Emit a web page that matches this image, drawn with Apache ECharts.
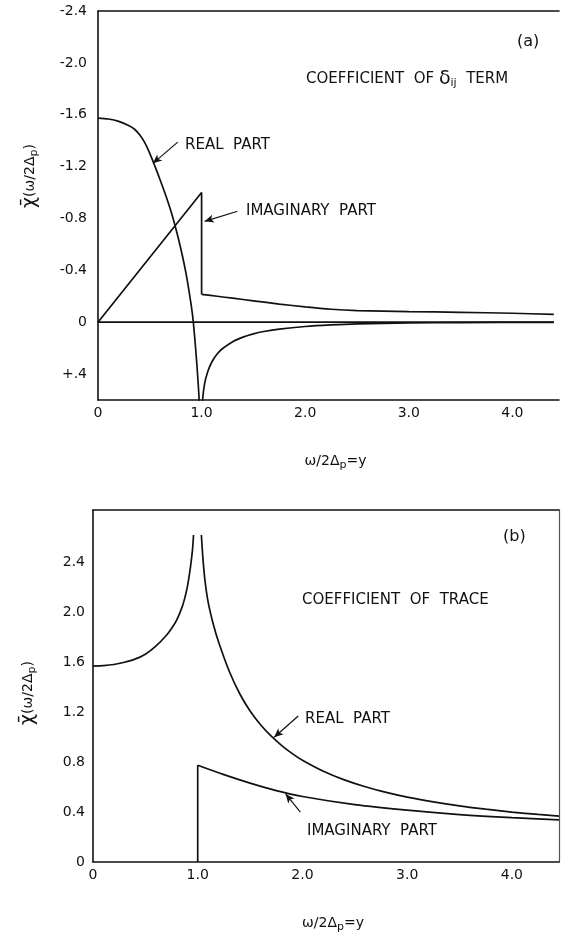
<!DOCTYPE html>
<html><head><meta charset="utf-8">
<script src="https://cdn.jsdelivr.net/npm/echarts@6/dist/echarts.min.js"></script>
<style>html,body{margin:0;padding:0;background:#fff}#c{width:562px;height:934px}</style>
</head><body><div id="c"></div>
<script>
// ---------- Panel (a): coefficient of delta_ij term ----------
const aRealBelow = [[0,-1.574],[0.1,-1.567],[0.2,-1.549],[0.3,-1.515],[0.35,-1.49],[0.4,-1.447],[0.45,-1.387],[0.5,-1.302],[0.55,-1.202],[0.6,-1.097],[0.65,-0.987],[0.7,-0.867],[0.75,-0.727],[0.8,-0.565],[0.85,-0.375],[0.9,-0.13],[0.92,0.0],[0.95,0.28],[0.975,0.58],[0.99,0.9]];
const aRealAbove = [[1.0,0.9],[1.01,0.6],[1.03,0.47],[1.06,0.38],[1.1,0.305],[1.15,0.245],[1.2,0.205],[1.3,0.15],[1.4,0.115],[1.5,0.09],[1.6,0.072],[1.75,0.053],[2.0,0.033],[2.25,0.021],[2.5,0.013],[3.0,0.006],[3.5,0.003],[4.4,0.001]];
const aImagRamp = [[0,0],[1.0,-1.0],[1.0,-0.215]];
const aImagTail = [[1.0,-0.215],[1.15,-0.2],[1.3,-0.185],[1.5,-0.165],[1.75,-0.14],[2.0,-0.118],[2.25,-0.1],[2.5,-0.09],[3.0,-0.082],[3.5,-0.076],[4.0,-0.069],[4.4,-0.06]];
const aZero = [[0,0],[4.4,0]];
const aYLabels = {'-2.4':'-2.4','-2.0':'-2.0','-1.6':'-1.6','-1.2':'-1.2','-0.8':'-0.8','-0.4':'-0.4','0.0':'0','0.4':'+.4'};
const aArrowReal = [[0.77,-1.389],[0.53,-1.225]];
const aArrowImag = [[1.346,-0.856],[1.03,-0.778]];

// ---------- Panel (b): coefficient of trace ----------
const bRealBelow = [[0,1.57],[0.1,1.573],[0.2,1.582],[0.3,1.6],[0.4,1.625],[0.5,1.665],[0.6,1.73],[0.7,1.815],[0.75,1.87],[0.8,1.94],[0.85,2.04],[0.875,2.11],[0.9,2.2],[0.92,2.3],[0.935,2.39],[0.95,2.5],[0.96,2.62]];
const bRealAbove = [[1.035,2.62],[1.05,2.43],[1.07,2.25],[1.1,2.08],[1.15,1.9],[1.2,1.76],[1.3,1.53],[1.4,1.35],[1.5,1.21],[1.6,1.1],[1.7,1.01],[1.8,0.935],[1.9,0.87],[2.0,0.815],[2.2,0.727],[2.4,0.658],[2.6,0.603],[2.8,0.558],[3.0,0.52],[3.25,0.482],[3.5,0.45],[3.75,0.423],[4.0,0.4],[4.25,0.381],[4.45,0.367]];
const bImagStep = [[1.0,0],[1.0,0.775]];
const bImagTail = [[1.0,0.775],[1.25,0.70],[1.5,0.632],[1.75,0.572],[2.0,0.525],[2.5,0.46],[3.0,0.415],[3.5,0.38],[4.0,0.355],[4.45,0.338]];
const bYLabels = {'0.0':'0','0.4':'0.4','0.8':'0.8','1.2':'1.2','1.6':'1.6','2.0':'2.0','2.4':'2.4'};
const bArrowReal = [[1.96,1.17],[1.73,1.0]];
const bArrowImag = [[1.98,0.40],[1.84,0.545]];

const xLabels = {'0.0':'0','1.0':'1.0','2.0':'2.0','3.0':'3.0','4.0':'4.0'};

const FONT = '"DejaVu Sans", sans-serif';
const key = v => { let r = Math.round(v*10)/10; if (Object.is(r,-0)) r = 0; return r.toFixed(1); };

const chart = echarts.init(document.getElementById('c'), null, {renderer:'canvas'});

function lineSeries(data, xi, yi, smooth) {
  return {
    type:'line', data, xAxisIndex:xi, yAxisIndex:yi, showSymbol:false, symbol:'none',
    smooth: smooth, silent:true, clip:true, animation:false,
    lineStyle:{color:'#111', width:1.7}
  };
}
function arrow(pts, xi, yi) {
  return {
    type:'line', data:[], xAxisIndex:xi, yAxisIndex:yi, silent:true, animation:false,
    markLine:{
      silent:true, animation:false, symbol:['none','arrow'], symbolSize:[6,9],
      lineStyle:{color:'#111', width:1.2, type:'solid'}, label:{show:false},
      emphasis:{disabled:true},
      data:[[{coord:pts[0]},{coord:pts[1]}]]
    }
  };
}

const axisLineStyle = {show:true, onZero:false, lineStyle:{color:'#111', width:1.6}};
const labelStyle = {color:'#111', fontFamily:FONT, fontSize:14};
const nameRich = {
  a:{fontFamily:FONT, fontSize:14, color:'#111'},
  s:{fontFamily:FONT, fontSize:11, color:'#111', padding:[8,0,0,0]}
};
const ANN = '15px ' + FONT;

const option = {
  backgroundColor:'#fff',
  animation:false,
  grid:[
    {left:98, top:11, width:463, height:389},
    {left:93, top:510, width:468, height:358}
  ],
  xAxis:[
    {gridIndex:0, type:'value', min:0, max:4.45, interval:1, axisLine:axisLineStyle, axisTick:{show:false}, splitLine:{show:false},
     axisLabel:Object.assign({margin:6, formatter:v=>xLabels[key(v)]||''}, labelStyle),
     name:'{a|ω/2Δ}{s|p}{a|=y}', nameLocation:'middle', nameGap:52, nameTextStyle:{rich:nameRich, padding:[0,0,0,14]}},
    {gridIndex:0, type:'value', position:'top', min:0, max:4.45, axisLine:axisLineStyle, axisTick:{show:false}, axisLabel:{show:false}, splitLine:{show:false}},
    {gridIndex:1, type:'value', min:0, max:4.45, interval:1, axisLine:axisLineStyle, axisTick:{show:false}, splitLine:{show:false},
     axisLabel:Object.assign({margin:6, formatter:v=>xLabels[key(v)]||''}, labelStyle),
     name:'{a|ω/2Δ}{s|p}{a|=y}', nameLocation:'middle', nameGap:52, nameTextStyle:{rich:nameRich, padding:[0,0,0,14]}},
    {gridIndex:1, type:'value', position:'top', min:0, max:4.45, axisLine:axisLineStyle, axisTick:{show:false}, axisLabel:{show:false}, splitLine:{show:false}}
  ],
  yAxis:[
    {gridIndex:0, type:'value', inverse:true, min:-2.4, max:0.6, interval:0.4, axisLine:axisLineStyle, axisTick:{show:false}, splitLine:{show:false},
     axisLabel:Object.assign({margin:11, formatter:v=>aYLabels[key(v)]||''}, labelStyle)},
    {gridIndex:1, type:'value', min:0, max:2.82, interval:0.4, axisLine:axisLineStyle, axisTick:{show:false}, splitLine:{show:false},
     axisLabel:Object.assign({margin:8, formatter:v=>bYLabels[key(v)]||''}, labelStyle)},
    {gridIndex:1, type:'value', position:'right', min:0, max:2.82, axisLine:{show:true, onZero:false, lineStyle:{color:'#555', width:1.2}}, axisTick:{show:false}, axisLabel:{show:false}, splitLine:{show:false}}
  ],
  series:[
    lineSeries(aZero, 0, 0, false),
    lineSeries(aRealBelow, 0, 0, 0.3),
    lineSeries(aRealAbove, 0, 0, 0.3),
    lineSeries(aImagRamp, 0, 0, false),
    lineSeries(aImagTail, 0, 0, 0.3),
    arrow(aArrowReal, 0, 0),
    arrow(aArrowImag, 0, 0),
    lineSeries(bRealBelow, 2, 1, 0.3),
    lineSeries(bRealAbove, 2, 1, 0.3),
    lineSeries(bImagStep, 2, 1, false),
    lineSeries(bImagTail, 2, 1, 0.3),
    arrow(bArrowReal, 2, 1),
    arrow(bArrowImag, 2, 1)
  ],
  graphic:[
    {type:'text', x:517, y:42, style:{text:'(a)', font:'16px '+FONT, fill:'#111', textVerticalAlign:'middle'}},
    {type:'text', x:306, y:79, style:{text:'{a|COEFFICIENT  OF }{d|δ}{s|ij}{a|  TERM}', textVerticalAlign:'middle',
      rich:{a:{font:ANN, fill:'#111'}, d:{font:'19px '+FONT, fill:'#111'}, s:{font:'11px '+FONT, fill:'#111', padding:[9,0,0,0]}}}},
    {type:'text', x:185, y:145, style:{text:'REAL  PART', font:ANN, fill:'#111', textVerticalAlign:'middle'}},
    {type:'text', x:246, y:211, style:{text:'IMAGINARY  PART', font:ANN, fill:'#111', textVerticalAlign:'middle'}},
    {type:'text', x:503, y:537, style:{text:'(b)', font:'16px '+FONT, fill:'#111', textVerticalAlign:'middle'}},
    {type:'text', x:302, y:600, style:{text:'COEFFICIENT  OF  TRACE', font:ANN, fill:'#111', textVerticalAlign:'middle'}},
    {type:'text', x:305, y:719, style:{text:'REAL  PART', font:ANN, fill:'#111', textVerticalAlign:'middle'}},
    {type:'text', x:307, y:831, style:{text:'IMAGINARY  PART', font:ANN, fill:'#111', textVerticalAlign:'middle'}},
    {type:'text', x:30, y:176, rotation:Math.PI/2, style:{text:'{c|χ\u0304}{a|(ω/2Δ}{s|p}{a|)}', textAlign:'center', textVerticalAlign:'middle',
      rich:{c:{font:'19px '+FONT, fill:'#111'}, a:{font:'14px '+FONT, fill:'#111'}, s:{font:'11px '+FONT, fill:'#111', padding:[8,0,0,0]}}}},
    {type:'text', x:28, y:693, rotation:Math.PI/2, style:{text:'{c|χ\u0304}{a|(ω/2Δ}{s|p}{a|)}', textAlign:'center', textVerticalAlign:'middle',
      rich:{c:{font:'19px '+FONT, fill:'#111'}, a:{font:'14px '+FONT, fill:'#111'}, s:{font:'11px '+FONT, fill:'#111', padding:[8,0,0,0]}}}}
  ]
};
chart.setOption(option);
</script></body></html>
